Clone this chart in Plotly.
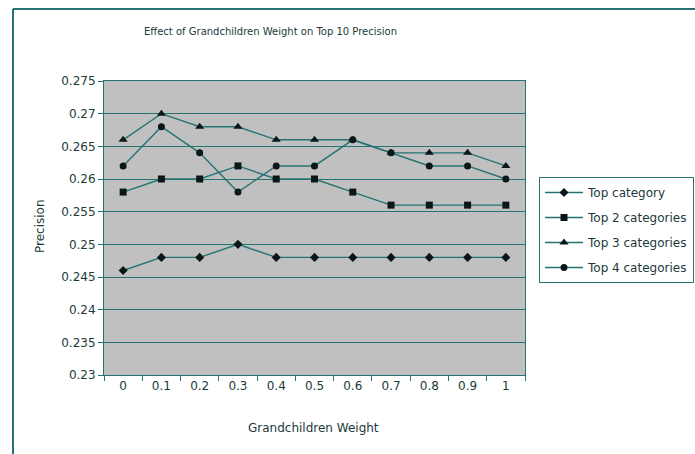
import plotly.graph_objects as go

weights = ["0", "0.1", "0.2", "0.3", "0.4", "0.5", "0.6", "0.7", "0.8", "0.9", "1"]
top1 = [0.246, 0.248, 0.248, 0.250, 0.248, 0.248, 0.248, 0.248, 0.248, 0.248, 0.248]
top2 = [0.258, 0.260, 0.260, 0.262, 0.260, 0.260, 0.258, 0.256, 0.256, 0.256, 0.256]
top3 = [0.266, 0.270, 0.268, 0.268, 0.266, 0.266, 0.266, 0.264, 0.264, 0.264, 0.262]
top4 = [0.262, 0.268, 0.264, 0.258, 0.262, 0.262, 0.266, 0.264, 0.262, 0.262, 0.260]
series_names = ["Top category", "Top 2 categories", "Top 3 categories", "Top 4 categories"]
y_ticks = [0.23, 0.235, 0.24, 0.245, 0.25, 0.255, 0.26, 0.265, 0.27, 0.275]
y_tick_text = ["0.23", "0.235", "0.24", "0.245", "0.25", "0.255", "0.26", "0.265", "0.27", "0.275"]

W, H = 695, 454
L, R, T, B = 104, 525, 81, 375
pw, ph = R - L, B - T

def px(x):
    return (x - L) / pw

def py(y):
    return (B - y) / ph

LINE = "#257373"
MARK = "#0b1616"
TEXT = "#1c3a3a"
FONT = "DejaVu Sans, Verdana, sans-serif"

symbols = ["diamond", "square", "triangle-up", "circle"]
sizes = [7, 7, 8, 7]
fig = go.Figure()
for i, (name, vals) in enumerate(zip(series_names, [top1, top2, top3, top4])):
    fig.add_trace(go.Scatter(
        x=weights, y=vals, name=name, mode="lines+markers",
        line=dict(color=LINE, width=1.4),
        marker=dict(symbol=symbols[i], size=sizes[i], color=MARK),
        legendgroup=str(i),
    ))

fig.update_layout(
    width=W, height=H,
    margin=dict(l=L, r=W - R, t=T, b=H - B, pad=0, autoexpand=False),
    paper_bgcolor="white", plot_bgcolor="#c0c0c0",
    font=dict(family=FONT, size=12, color=TEXT),
    showlegend=True,
    legend=dict(
        x=px(539), y=py(177), xanchor="left", yanchor="top",
        bordercolor=LINE, borderwidth=1, bgcolor="white",
        font=dict(size=12, color=TEXT), tracegroupgap=6,
        traceorder="grouped", itemwidth=38,
    ),
    xaxis=dict(
        type="category", range=[-0.5, 10.5], tickson="boundaries",
        ticks="outside", ticklen=5, tickcolor=LINE,
        showline=True, linecolor=LINE, linewidth=1, mirror=True,
        showgrid=False, tickfont=dict(size=12, color=TEXT),
    ),
    yaxis=dict(
        range=[0.23, 0.275], tickvals=y_ticks, ticktext=y_tick_text,
        ticks="outside", ticklen=5, tickcolor=LINE,
        showline=True, linecolor=LINE, linewidth=1, mirror=True,
        showgrid=True, gridcolor=LINE, gridwidth=1.2, zeroline=False,
        tickfont=dict(size=12, color=TEXT),
    ),
    annotations=[
        dict(text="Effect of Grandchildren Weight on Top 10 Precision",
             x=px(270), y=py(31), xref="paper", yref="paper",
             xanchor="center", yanchor="middle",
             showarrow=False, font=dict(size=10, color=TEXT)),
        dict(text="Grandchildren Weight", x=px(313), y=py(428),
             xref="paper", yref="paper", xanchor="center", yanchor="middle",
             showarrow=False, font=dict(size=12, color=TEXT)),
        dict(text="Precision", x=px(40), y=py(226), xref="paper",
             yref="paper", xanchor="center", yanchor="middle",
             showarrow=False, textangle=-90,
             font=dict(size=12, color=TEXT)),
    ],
    shapes=[
        dict(type="line", xref="paper", yref="paper", x0=px(13), x1=px(13),
             y0=py(9), y1=py(454), line=dict(color=LINE, width=2)),
        dict(type="line", xref="paper", yref="paper", x0=px(13), x1=px(695),
             y0=py(9), y1=py(9), line=dict(color=LINE, width=2)),
    ],
)

fig.write_html("out.html")
